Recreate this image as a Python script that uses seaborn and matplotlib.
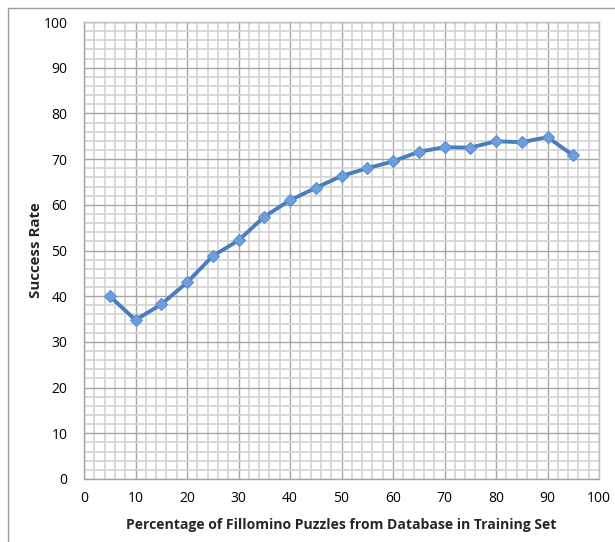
import matplotlib
matplotlib.use("Agg")
import matplotlib.pyplot as plt
from matplotlib.ticker import MultipleLocator
from matplotlib.lines import Line2D
import seaborn as sns
import pandas as pd

pct = [5, 10, 15, 20, 25, 30, 35, 40, 45, 50, 55, 60, 65, 70, 75, 80, 85, 90, 95]
success = [40.0, 34.8, 38.2, 43.0, 48.8, 52.2, 57.4, 61.0, 63.7, 66.3, 68.0, 69.5, 71.6, 72.6, 72.5, 73.9, 73.7, 74.8, 70.8]
xlabel = "Percentage of Fillomino Puzzles from Database in Training Set"
ylabel = "Success Rate"

df = pd.DataFrame({"pct": pct, "success": success})

sns.set_style("white")
plt.rcParams["font.family"] = ["Open Sans", "DejaVu Sans"]

fig = plt.figure(figsize=(6.15, 5.42), dpi=100)
ax = fig.add_axes([84 / 615, 63 / 542, 515 / 615, 457 / 542])

sns.lineplot(data=df, x="pct", y="success", ax=ax, color="#4A7EBB", linewidth=2.8,
             marker="D", markersize=6.0, markerfacecolor="#6E9FDD",
             markeredgecolor="#5B8ED0", markeredgewidth=0.8, zorder=5)

ax.set_xlim(0, 100)
ax.set_ylim(0, 100)
ax.xaxis.set_major_locator(MultipleLocator(10))
ax.yaxis.set_major_locator(MultipleLocator(10))
ax.xaxis.set_minor_locator(MultipleLocator(2))
ax.yaxis.set_minor_locator(MultipleLocator(2))
ax.grid(which="minor", color="#D6D6D6", linewidth=1.3, zorder=0)
ax.grid(which="major", color="#A6A6A6", linewidth=1.0, zorder=1)
ax.set_axisbelow(True)

for s in ["top", "right", "left", "bottom"]:
    ax.spines[s].set_color("#BFBFBF")
    ax.spines[s].set_linewidth(1.0)
ax.spines["left"].set_color("#A6A6A6")
ax.spines["bottom"].set_color("#A6A6A6")

ax.tick_params(axis="both", which="major", direction="out", length=4, width=1,
               color="#A6A6A6", labelsize=10, labelcolor="#000000")
ax.tick_params(axis="both", which="minor", length=0)
ax.tick_params(axis="x", pad=5)
ax.tick_params(axis="y", pad=8)

ax.set_xlabel(xlabel, fontsize=10.1, fontweight="bold", labelpad=8)
ax.set_ylabel(ylabel, fontsize=10.8, fontweight="bold", labelpad=0)

# chart-area border (top and left edges visible)
fig.add_artist(Line2D([7.5 / 615, 7.5 / 615], [0, 1 - 7.5 / 542], transform=fig.transFigure,
                      color="#9C9C9C", linewidth=1.0))
fig.add_artist(Line2D([7.5 / 615, 1], [1 - 7.5 / 542, 1 - 7.5 / 542], transform=fig.transFigure,
                      color="#9C9C9C", linewidth=1.0))

fig.savefig("out.png", dpi=100)
